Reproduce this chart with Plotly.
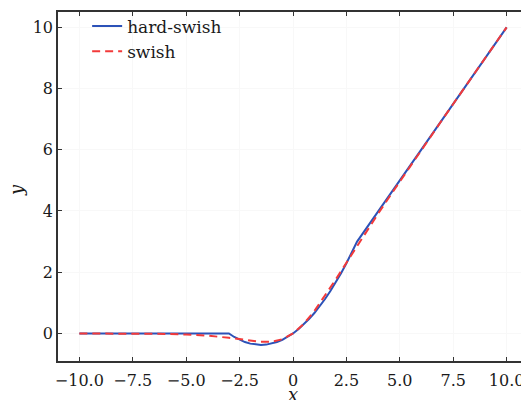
import plotly.graph_objects as go

# hard-swish samples (x, y)
hs_x = [-10.0, -3.0, -2.75, -2.5, -2.25, -2.0, -1.75, -1.5, -1.25, -1.0, -0.75, -0.5, -0.25,
        0.0, 0.25, 0.5, 0.75, 1.0, 1.25, 1.5, 1.75, 2.0, 2.25, 2.5, 2.75, 3.0, 10.0]
hs_y = [0.0, 0.0, -0.115, -0.208, -0.281, -0.333, -0.365, -0.375, -0.365, -0.333, -0.281, -0.208, -0.115,
        0.0, 0.135, 0.292, 0.469, 0.667, 0.885, 1.125, 1.385, 1.667, 1.969, 2.292, 2.635, 3.0, 10.0]

# swish samples (x, y)
sw_x = [-10.0, -8.0, -7.0, -6.0, -5.0, -4.0, -3.0, -2.5, -2.0, -1.5, -1.0, -0.5,
        0.0, 0.5, 1.0, 1.5, 2.0, 2.5, 3.0, 3.5, 4.0, 4.5, 5.0, 6.0, 7.0, 8.0, 10.0]
sw_y = [0.0, -0.003, -0.006, -0.015, -0.033, -0.072, -0.142, -0.189, -0.238, -0.273, -0.269, -0.189,
        0.0, 0.311, 0.731, 1.227, 1.762, 2.31, 2.857, 3.41, 3.928, 4.45, 4.967, 5.985, 6.994, 7.997, 10.0]

x_ticks = [-10.0, -7.5, -5.0, -2.5, 0, 2.5, 5.0, 7.5, 10.0]
x_tick_labels = ["\u221210.0", "\u22127.5", "\u22125.0", "\u22122.5", "0", "2.5", "5.0", "7.5", "10.0"]
y_ticks = [0, 2, 4, 6, 8, 10]
y_tick_labels = ["0", "2", "4", "6", "8", "10"]

fig = go.Figure()
fig.add_trace(go.Scatter(x=hs_x, y=hs_y, mode="lines", name="hard-swish",
                         line=dict(color="#2c52b8", width=2)))
fig.add_trace(go.Scatter(x=sw_x, y=sw_y, mode="lines", name="swish",
                         line=dict(color="#f23a3a", width=2, dash="8px,5px")))

tick_font = dict(family="DejaVu Serif", size=16, color="#1a1a1a")
leg_font = dict(family="DejaVu Serif", size=17, color="#1a1a1a")
title_font = dict(family="DejaVu Serif", size=18, color="#1a1a1a")
axis_common = dict(showline=True, linecolor="#333333", linewidth=1.5, mirror="ticks",
                   ticks="inside", ticklen=4, tickwidth=1, tickcolor="#333333",
                   showgrid=True, gridcolor="#f8f8f8", zeroline=False, tickfont=tick_font,
                   automargin=False)

# page body has an 8px margin, so the figure is sized 8px smaller
fig.update_layout(
    width=521, height=392,
    margin=dict(l=50, r=1, t=4, b=39),
    paper_bgcolor="white", plot_bgcolor="white",
    font=tick_font,
    showlegend=True,
    legend=dict(x=0.062, y=1.01, xanchor="left", yanchor="top", bgcolor="rgba(0,0,0,0)",
                font=leg_font, tracegroupgap=0, itemwidth=30),
    xaxis=dict(range=[-11, 11], tickvals=x_ticks, ticktext=x_tick_labels,
               ticklabelstandoff=4, **axis_common),
    yaxis=dict(range=[-0.9, 10.5], tickvals=y_ticks, ticktext=y_tick_labels, **axis_common),
    annotations=[
        dict(text="<i>x</i>", xref="paper", yref="paper", x=0.5, y=-0.095,
             xanchor="center", yanchor="middle", showarrow=False, font=title_font),
        dict(text="<i>y</i>", xref="paper", yref="paper", x=-0.087, y=0.49,
             xanchor="center", yanchor="middle", showarrow=False, font=title_font, textangle=-90),
    ],
)

fig.write_html("out.html")
